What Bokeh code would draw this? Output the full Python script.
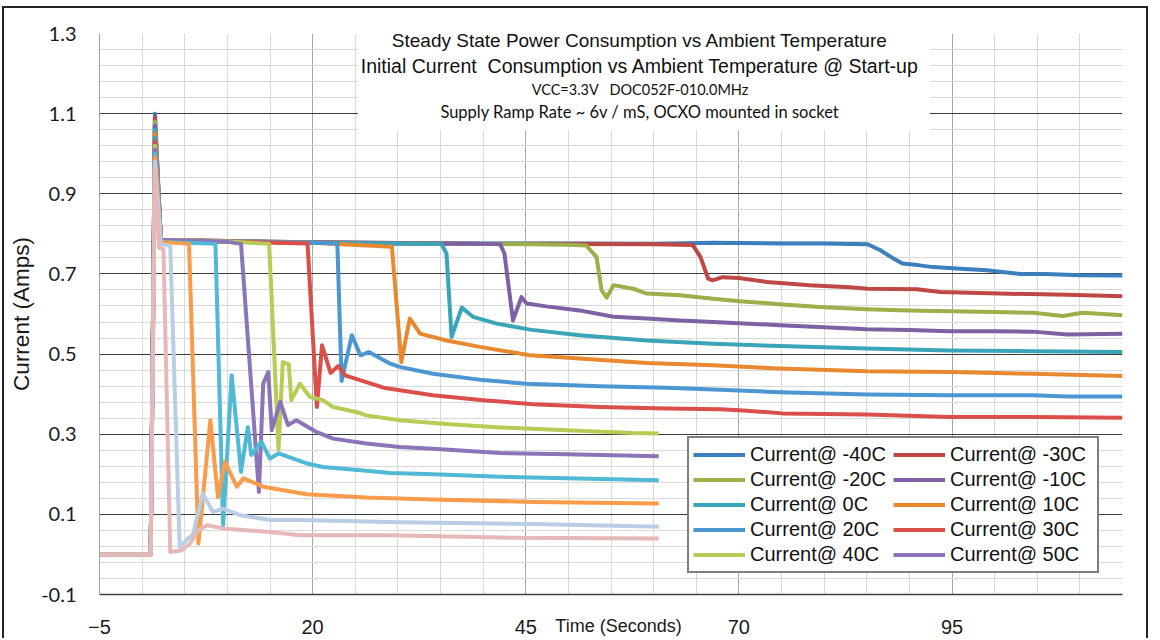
import numpy as np
from bokeh.plotting import figure
from bokeh.models import Range1d, FixedTicker, Legend, LegendItem, Label, BoxAnnotation, PrintfTickFormatter
from bokeh.embed import file_html
from bokeh.resources import INLINE

# ---------------- data (time in s, current in A) ----------------
t_m40 = [-5, 1.0, 1.5, 2.2, 10, 20, 30, 40, 50, 60, 65.5, 67, 75, 80, 85.1, 86.6, 88, 89.2, 91, 92.8, 96, 99.1, 103, 106, 110, 115]
i_m40 = [0, 0, 1.10, 0.785, 0.782, 0.779, 0.777, 0.776, 0.776, 0.775, 0.777, 0.778, 0.776, 0.776, 0.774, 0.759, 0.74, 0.726, 0.722, 0.717, 0.713, 0.709, 0.70, 0.70, 0.697, 0.696]

t_m30 = [-5, 1.0, 1.5, 2.2, 10, 20, 30, 40, 50, 60, 64.6, 65.5, 66.4, 66.9, 68.1, 70, 73.3, 78.3, 83, 85.1, 90.9, 93.6, 100.6, 108.5, 115]
i_m30 = [0, 0, 1.09, 0.785, 0.782, 0.779, 0.777, 0.775, 0.775, 0.774, 0.772, 0.742, 0.688, 0.684, 0.692, 0.690, 0.68, 0.672, 0.667, 0.663, 0.662, 0.655, 0.651, 0.648, 0.644]

t_m20 = [-5, 1.0, 1.5, 2.2, 10, 20, 30, 40, 50, 52.1, 53.3, 53.9, 54.5, 55.3, 57.6, 59.2, 63.1, 67.0, 70.1, 75.1, 80, 85, 90, 94.7, 100, 104.5, 108, 110.3, 115]
i_m20 = [0, 0, 1.08, 0.785, 0.781, 0.778, 0.776, 0.775, 0.773, 0.771, 0.742, 0.659, 0.641, 0.672, 0.663, 0.651, 0.647, 0.638, 0.632, 0.624, 0.617, 0.612, 0.609, 0.607, 0.605, 0.603, 0.595, 0.603, 0.597]

t_m10 = [-5, 1.0, 1.5, 2.2, 10, 20, 30, 40, 42.0, 42.5, 43.5, 44.5, 45.1, 47.4, 51.3, 55.3, 59.2, 63.1, 67, 74.8, 80, 85, 90, 94.7, 100, 104.5, 108.5, 115]
i_m10 = [0, 0, 1.07, 0.785, 0.781, 0.778, 0.776, 0.775, 0.774, 0.751, 0.584, 0.642, 0.626, 0.619, 0.609, 0.593, 0.589, 0.584, 0.58, 0.572, 0.567, 0.562, 0.56, 0.557, 0.557, 0.556, 0.549, 0.551]

t_0 = [-5, 1.0, 1.5, 2.2, 10, 20, 30, 35.1, 35.7, 36.3, 37.5, 38.8, 41.6, 45.5, 51.3, 59.2, 67, 74.8, 80, 85, 94.7, 104.5, 115]
i_0 = [0, 0, 1.06, 0.785, 0.781, 0.778, 0.776, 0.775, 0.751, 0.543, 0.616, 0.593, 0.576, 0.561, 0.547, 0.534, 0.526, 0.52, 0.517, 0.514, 0.509, 0.507, 0.505]

t_10 = [-5, 1.0, 1.5, 2.2, 10, 20, 29.3, 30.4, 31.4, 32.6, 35.7, 39.6, 45.5, 51.3, 59.2, 67, 74.8, 85, 94.7, 104.5, 115]
i_10 = [0, 0, 1.05, 0.785, 0.781, 0.778, 0.768, 0.48, 0.589, 0.551, 0.534, 0.518, 0.497, 0.489, 0.478, 0.472, 0.464, 0.457, 0.455, 0.451, 0.445]

t_20 = [-5, 1.0, 1.5, 2.2, 10, 20, 22.9, 23.4, 24.6, 25.6, 26.6, 29.1, 30.2, 34.1, 40.0, 45.1, 53.7, 61.5, 67.8, 74.8, 85, 94.7, 104.5, 108.5, 115]
i_20 = [0, 0, 1.04, 0.785, 0.781, 0.778, 0.776, 0.433, 0.547, 0.497, 0.505, 0.476, 0.468, 0.451, 0.435, 0.426, 0.42, 0.416, 0.411, 0.405, 0.399, 0.397, 0.397, 0.394, 0.394]

t_30 = [-5, 1.0, 1.5, 2.2, 10, 19.4, 20.5, 21.1, 22.1, 23.0, 23.8, 27.5, 28.3, 34.1, 40.0, 45.9, 53.7, 61.5, 67.8, 70.1, 75.1, 85, 94.7, 104.5, 115]
i_30 = [0, 0, 1.03, 0.785, 0.781, 0.776, 0.368, 0.522, 0.453, 0.47, 0.447, 0.422, 0.416, 0.397, 0.385, 0.375, 0.368, 0.364, 0.362, 0.36, 0.352, 0.349, 0.343, 0.343, 0.341]

t_40 = [-5, 1.0, 1.5, 2.2, 10, 14.9, 16.0, 16.5, 17.2, 17.5, 18.5, 19.7, 21.2, 22.4, 25.2, 26.3, 30.2, 36.1, 42.0, 49.8, 57.6, 60.6]
i_40 = [0, 0, 1.02, 0.785, 0.781, 0.775, 0.262, 0.48, 0.475, 0.385, 0.426, 0.393, 0.385, 0.368, 0.355, 0.347, 0.335, 0.325, 0.317, 0.31, 0.303, 0.302]

t_50 = [-5, 1.0, 1.5, 2.2, 10, 11.6, 13.7, 14.2, 14.8, 15.2, 16.2, 17.1, 18.1, 20.5, 22.4, 26.3, 30.2, 34.1, 42.0, 49.8, 60.6]
i_50 = [0, 0, 1.01, 0.785, 0.78, 0.775, 0.156, 0.426, 0.455, 0.31, 0.381, 0.323, 0.335, 0.305, 0.289, 0.277, 0.268, 0.264, 0.253, 0.25, 0.245]

t_60 = [-5, 1.0, 1.5, 2.2, 8.6, 9.5, 10.5, 11.6, 12.4, 12.8, 14.0, 15.0, 16.0, 19.3, 21.2, 26.3, 29.1, 34.1, 42.0, 49.8, 60.6]
i_60 = [0, 0, 1.00, 0.78, 0.775, 0.073, 0.447, 0.206, 0.318, 0.248, 0.281, 0.239, 0.252, 0.227, 0.218, 0.209, 0.203, 0.2, 0.194, 0.19, 0.185]

t_70 = [-5, 1.0, 1.5, 2.2, 5.5, 6.6, 8.0, 8.9, 9.7, 11.1, 11.9, 14.2, 19.3, 26.3, 34.1, 45.9, 60.6]
i_70 = [0, 0, 0.99, 0.78, 0.775, 0.027, 0.335, 0.143, 0.231, 0.169, 0.19, 0.169, 0.15, 0.142, 0.137, 0.131, 0.127]

t_80 = [-5, 1.0, 1.5, 2.2, 3.3, 4.4, 6.0, 7.1, 8.3, 9.5, 11.5, 15.0, 18.5, 30.2, 45.9, 60.6]
i_80 = [0, 0, 0.98, 0.775, 0.77, 0.019, 0.052, 0.152, 0.106, 0.114, 0.098, 0.086, 0.086, 0.08, 0.076, 0.069]

t_90 = [-5, 1.0, 1.5, 2.0, 2.5, 3.3, 4.6, 5.6, 6.6, 7.6, 9.5, 15.0, 18.5, 29.1, 42.0, 60.6]
i_90 = [0, 0, 0.96, 0.765, 0.762, 0.006, 0.010, 0.027, 0.06, 0.073, 0.065, 0.056, 0.048, 0.048, 0.042, 0.04]

series_labels = ["Current@ -40C", "Current@ -30C", "Current@ -20C", "Current@ -10C",
                 "Current@ 0C", "Current@ 10C", "Current@ 20C", "Current@ 30C",
                 "Current@ 40C", "Current@ 50C", "Current@ 60C", "Current@ 70C",
                 "Current@ 80C", "Current@ 90C"]
series_t = [t_m40, t_m30, t_m20, t_m10, t_0, t_10, t_20, t_30, t_40, t_50, t_60, t_70, t_80, t_90]
series_i = [i_m40, i_m30, i_m20, i_m10, i_0, i_10, i_20, i_30, i_40, i_50, i_60, i_70, i_80, i_90]
series_colors = ["#3D7EBD", "#BE4844", "#9BAF4A", "#7E60A4", "#3AA4B9", "#E8882F",
                 "#4C96D2", "#DA4F4A", "#B7CC55", "#8C74B8", "#4FB9D6", "#F89B4A",
                 "#B9CDE5", "#E6B9B8"]
legend_count = 10

x_ticks = [-5, 20, 45, 70, 95]
y_ticks = [-0.1, 0.1, 0.3, 0.5, 0.7, 0.9, 1.1, 1.3]

NB = "\u00a0"
title_lines = ["Steady State Power Consumption vs Ambient Temperature",
               "Initial Current" + NB + NB + "Consumption vs Ambient Temperature @ Start-up",
               "VCC=3.3V" + NB * 3 + "DOC052F-010.0MHz",
               "Supply Ramp Rate ~ 6v / mS, OCXO mounted in socket"]
x_title = "Time (Seconds)"
y_title = "Current (Amps)"

SANS = "Liberation Sans"
CAL = "Lato"

# ---------------- figure ----------------
p = figure(width=1146, height=632, output_backend="svg", toolbar_location=None,
           x_range=Range1d(-5, 115), y_range=Range1d(-0.1, 1.3),
           min_border_left=95, min_border_right=28, min_border_top=25, min_border_bottom=46)
p.styles = {"margin": "6px 0px 0px 2px",
            "border-top": "2px solid #222222",
            "border-left": "2px solid #222222",
            "border-right": "2px solid #222222"}
p.outline_line_color = None
p.background_fill_color = "white"
p.border_fill_color = "white"

x_minor = [float(v) for v in np.arange(-5, 116, 5) if (v + 5) % 25 != 0]
y_minor = [round(-0.1 + 0.04 * k, 3) for k in range(36) if k % 5 != 0]

p.xgrid.ticker = FixedTicker(ticks=x_ticks, minor_ticks=x_minor)
p.xgrid.grid_line_color = "#a6a6a6"
p.xgrid.minor_grid_line_color = "#d9d9d9"
p.ygrid.ticker = FixedTicker(ticks=y_ticks, minor_ticks=y_minor)
p.ygrid.grid_line_color = "#3c3c3c"
p.ygrid.minor_grid_line_color = "#d9d9d9"

p.xaxis.ticker = FixedTicker(ticks=x_ticks)
p.yaxis.ticker = FixedTicker(ticks=y_ticks)
p.yaxis.formatter = PrintfTickFormatter(format="%.1f")
for ax in (p.xaxis, p.yaxis):
    ax.major_tick_line_color = None
    ax.minor_tick_line_color = None
    ax.major_label_text_color = "#1a1a1a"
p.xaxis.axis_line_color = "#404040"
p.xaxis.axis_line_width = 1.5
p.yaxis.axis_line_color = "#a0a0a0"
p.xaxis.major_label_text_font = SANS
p.xaxis.major_label_text_font_size = "20px"
p.xaxis.major_label_standoff = 19
p.xaxis.axis_label = NB * 3 + x_title
p.xaxis.axis_label_text_font = SANS
p.xaxis.axis_label_text_font_size = "18px"
p.xaxis.axis_label_text_font_style = "normal"
p.xaxis.axis_label_text_color = "#1a1a1a"
p.xaxis.axis_label_standoff = -21
p.yaxis.major_label_text_font = CAL
p.yaxis.major_label_text_font_size = "20px"
p.yaxis.major_label_standoff = 17
p.yaxis.axis_label = y_title
p.yaxis.axis_label_text_font = SANS
p.yaxis.axis_label_text_font_size = "22.5px"
p.yaxis.axis_label_text_font_style = "normal"
p.yaxis.axis_label_text_color = "#1a1a1a"
p.yaxis.axis_label_standoff = 4

renderers = []
for t, i, c in zip(series_t, series_i, series_colors):
    r = p.line(t, i, line_width=4, line_color=c, line_join="round")
    renderers.append(r)

# legend filled column by column: left column = even series, right column = odd series
order = [k for k in range(0, legend_count, 2)] + [k for k in range(1, legend_count, 2)]
items = [LegendItem(label=series_labels[k], renderers=[renderers[k]]) for k in order]
legend = Legend(items=items, ncols=2, location=(588, 21),
                border_line_color="black", border_line_width=2,
                background_fill_color="white", background_fill_alpha=1.0,
                label_text_font=SANS, label_text_font_size="20px", label_text_color="#111111",
                glyph_width=52, glyph_height=25, label_height=25, label_width=143,
                label_standoff=5, spacing=0, padding=4, margin=0)
p.add_layout(legend, "center")

# title text box
p.add_layout(BoxAnnotation(left=25.3, right=92.4, bottom=1.058, top=1.35,
                           fill_color="white", fill_alpha=1.0, line_color=None))
title_y = [1.2825, 1.220, 1.160, 1.103]
title_fonts = [(SANS, "19px"), (SANS, "19.5px"), (CAL, "14.5px"), (CAL, "16.5px")]
for txt, yy, (fnt, fs) in zip(title_lines, title_y, title_fonts):
    p.add_layout(Label(x=58.4, y=yy, text=txt, text_align="center", text_baseline="middle",
                       text_font=fnt, text_font_size=fs, text_color="#111111"))

open("out.html", "w").write(file_html(p, INLINE))
